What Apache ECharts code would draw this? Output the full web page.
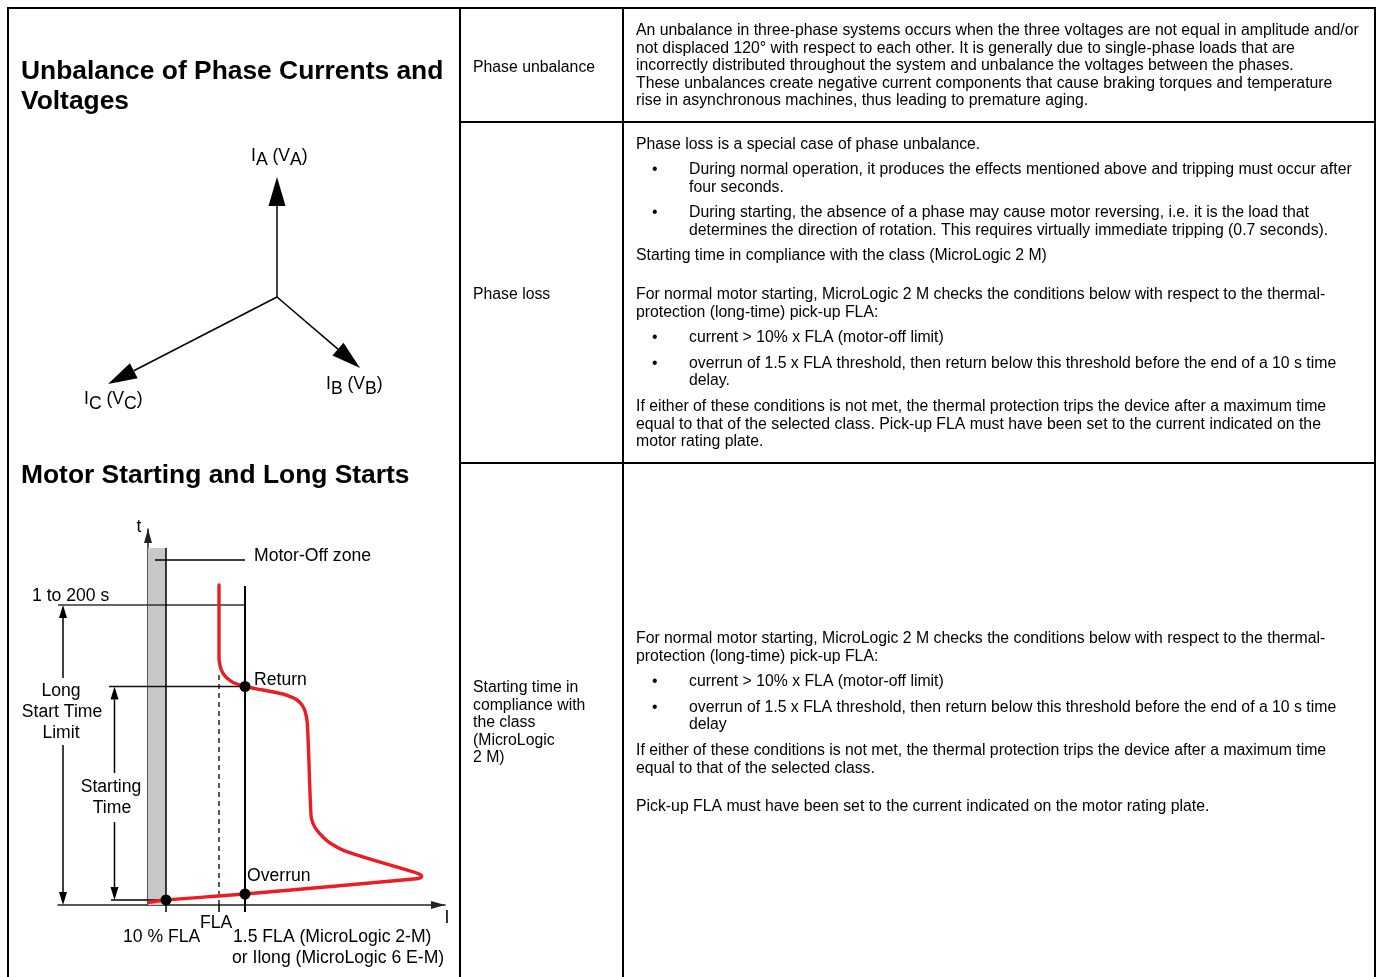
<!DOCTYPE html>
<html><head><meta charset="utf-8">
<style>html,body{margin:0;padding:0;background:#fff;overflow:hidden}#c{width:1376px;height:977px}</style>
<script src="https://cdn.jsdelivr.net/npm/echarts@6/dist/echarts.min.js"></script></head>
<body><div id="c"></div>
<script>
// ---- motor curve (schematic current / time units) ----
const tripCurve = [[71,320],[71,250],[71.4,243],[72.8,236.5],[75.5,231],[79.5,226.5],[85,222.5],[97,218.5],[115,215],[135,211],[142,208.5],[149,205],[154,200],[157,194],[159.3,182],[163,90],[164.8,82],[168.7,75],[175,68],[182,62],[198.7,53.3],[268.7,32],[272,30.5],[273.7,29],[273,27.5],[268.7,26.3],[97,11],[18,5],[1,2.7]];
const keyPoints = [[18,5],[97,218.5],[97,11]];
const xTicks = [18,71,97];
const offZone = [0,18,357];
const fullLoadLine = [[97,-7],[97,319]];
const flaDashed = [[71,0],[71,230]];
const offEdge = [[18,0],[18,357]];
const limitLine = [[-90,300],[97,300]];
const startLine = [[-39,218.5],[97,218.5]];
const lowLine = [[-37,5],[18,5]];
const leader = [[7,345],[97,345]];
const dimArrows = [[-85,227,-85,300],[-85,160,-85,0],[-33.5,132,-33.5,218.5],[-33.5,83,-33.5,5]];
// ---- phasors ----
const phasors = [[0,0,0,120],[0,0,83,-71],[0,0,-169,-87]];
// ---- texts ----
const unbalanceText = ["An unbalance in three-phase systems occurs when the three voltages are not equal in amplitude and/or","not displaced 120° with respect to each other. It is generally due to single-phase loads that are","incorrectly distributed throughout the system and unbalance the voltages between the phases.","These unbalances create negative current components that cause braking torques and temperature","rise in asynchronous machines, thus leading to premature aging."];
const lossText = ["Phase loss is a special case of phase unbalance.","Starting time in compliance with the class (MicroLogic 2 M)","For normal motor starting, MicroLogic 2 M checks the conditions below with respect to the thermal-","protection (long-time) pick-up FLA:","If either of these conditions is not met, the thermal protection trips the device after a maximum time","equal to that of the selected class. Pick-up FLA must have been set to the current indicated on the","motor rating plate."];
const lossBullets = ["During normal operation, it produces the effects mentioned above and tripping must occur after","four seconds.","During starting, the absence of a phase may cause motor reversing, i.e. it is the load that","determines the direction of rotation. This requires virtually immediate tripping (0.7 seconds).","current > 10% x FLA (motor-off limit)","overrun of 1.5 x FLA threshold, then return below this threshold before the end of a 10 s time","delay."];
const startText = ["For normal motor starting, MicroLogic 2 M checks the conditions below with respect to the thermal-","protection (long-time) pick-up FLA:","If either of these conditions is not met, the thermal protection trips the device after a maximum time","equal to that of the selected class.","Pick-up FLA must have been set to the current indicated on the motor rating plate."];
const startBullets = ["current > 10% x FLA (motor-off limit)","overrun of 1.5 x FLA threshold, then return below this threshold before the end of a 10 s time","delay"];
const rowNames = ["Phase unbalance","Phase loss","Starting time in","compliance with","the class","(MicroLogic","2 M)"];
const titles = ["Unbalance of Phase Currents and","Voltages","Motor Starting and Long Starts"];
const diagramLabels = ["t","Motor-Off zone","1 to 200 s","Long","Start Time","Limit","Starting","Time","Return","Overrun","FLA","10 % FLA","1.5 FLA (MicroLogic 2-M)","or Ilong (MicroLogic 6 E-M)","I"];

// ---- layout ----
const FF = "'Liberation Sans', Arial, sans-serif";
const BODY = 15.8, DIA = 17.6;
const g = [];
function T(s,x,y,o){ g.push({type:'text',x,y:y+1,silent:true,z:20,style:Object.assign({text:s,fill:'#000',fontFamily:FF,fontSize:BODY,textAlign:'left',textVerticalAlign:'middle'},o||{})}); }
function L(x1,y1,x2,y2,w){ g.push({type:'line',silent:true,z:30,shape:{x1,y1,x2,y2},style:{stroke:'#000',lineWidth:w||2}}); }
L(7,8,1376,8); L(8,8,8,977); L(460,8,460,977); L(623,8,623,977); L(1375,8,1375,977); L(460,122,1376,122); L(460,463,1376,463);
const tb={fontSize:26.4,fontWeight:'bold'};
T(titles[0],21,71,tb);T(titles[1],21,101,tb);T(titles[2],21,475,tb);
const lx=473; [67,294,687,704.5,722,739.5,757].forEach((y,i)=>T(rowNames[i],lx,y));
const bx=636, bu=689, dot=652;
[30,47.5,65,82.5,100].forEach((y,i)=>T(unbalanceText[i],bx,y));
[144,255,294,311.5,406,423.5,441].forEach((y,i)=>T(lossText[i],bx,y));
[169,186.5,212,229.5,337,363,380].forEach((y,i)=>T(lossBullets[i],bu,y));
[169,212,337,363].forEach(y=>T("•",dot,y));
[638,655.5,750,767.5,806].forEach((y,i)=>T(startText[i],bx,y));
[681,707,724].forEach((y,i)=>T(startBullets[i],bu,y));
[681,707].forEach(y=>T("•",dot,y));
const d={fontSize:DIA};
const dl=diagramLabels;
T(dl[0],139,526,Object.assign({textAlign:'center'},d));
T(dl[1],254,555,d);T(dl[2],32,595,d);
T(dl[3],61,690,Object.assign({textAlign:'center'},d));T(dl[4],62,711,Object.assign({textAlign:'center'},d));T(dl[5],61,732,Object.assign({textAlign:'center'},d));
T(dl[6],111,786,Object.assign({textAlign:'center'},d));T(dl[7],112,807,Object.assign({textAlign:'center'},d));
T(dl[8],254,679,d);T(dl[9],247,875,d);T(dl[10],200,922,d);T(dl[11],123,936,d);T(dl[12],233,936,d);T(dl[13],232,957,d);T(dl[14],447,917,Object.assign({textAlign:'center'},d));
const sub={a:{fontFamily:FF,fontSize:DIA,fill:'#000'},s:{fontFamily:FF,fontSize:DIA,fill:'#000',padding:[9,0,0,0]}};
function P(p,x,y){ g.push({type:'text',x,y,silent:true,z:20,style:{text:`{a|I}{s|${p}}{a| (V}{s|${p}}{a|)}`,rich:sub,textAlign:'left',textVerticalAlign:'middle'}}); }
P('A',251,156);P('B',326,384.5);P('C',84,399.5);

function arrowItem(params,api){
  const a=api.coord([api.value(0),api.value(1)]), b=api.coord([api.value(2),api.value(3)]);
  const hl=params.seriesIndex===0?29:13, hw=params.seriesIndex===0?8.5:4;
  const dx=b[0]-a[0],dy=b[1]-a[1],n=Math.hypot(dx,dy),ux=dx/n,uy=dy/n;
  const bx2=b[0]-ux*hl,by2=b[1]-uy*hl;
  return {type:'group',children:[
    {type:'line',shape:{x1:a[0],y1:a[1],x2:bx2,y2:by2},style:{stroke:'#000',lineWidth:1.5}},
    {type:'polygon',shape:{points:[b,[bx2-uy*hw,by2+ux*hw],[bx2+uy*hw,by2-ux*hw]]},style:{fill:'#000'}}
  ]};
}
function thin(data,color,width,type,z){ return {type:'line',xAxisIndex:1,yAxisIndex:1,data,symbol:'none',silent:true,clip:false,z:z||3,lineStyle:{color,width,type:type||'solid'}}; }
const axisArrow='path://M0 0L4 14L-4 14Z';

const chart=echarts.init(document.getElementById('c'),null,{renderer:'canvas'});
chart.setOption({
  animation:false,
  backgroundColor:'#fff',
  graphic:{elements:g},
  grid:[{left:77,top:147,width:400,height:300},{left:58,top:529,width:387,height:376}],
  xAxis:[
    {gridIndex:0,type:'value',min:-200,max:200,show:false},
    {gridIndex:1,type:'value',min:-90,max:297,splitLine:{show:false},
      axisLabel:{show:false},
      axisLine:{onZero:false,lineStyle:{color:'#222',width:1.5},symbol:['none',axisArrow],symbolSize:[8,14],symbolOffset:[0,-7]},
      axisTick:{show:true,length:7,customValues:xTicks,lineStyle:{color:'#000',width:1.5}}}
  ],
  yAxis:[
    {gridIndex:0,type:'value',min:-150,max:150,show:false},
    {gridIndex:1,type:'value',min:0,max:376,splitLine:{show:false},axisLabel:{show:false},axisTick:{show:false},
      axisLine:{show:true,onZero:true,lineStyle:{color:'#222',width:1.5},symbol:['none',axisArrow],symbolSize:[8,14],symbolOffset:[0,-7]}}
  ],
  series:[
    {type:'custom',xAxisIndex:0,yAxisIndex:0,renderItem:arrowItem,data:phasors,encode:{x:[0,2],y:[1,3]},clip:false,silent:true,z:5},
    {type:'custom',xAxisIndex:1,yAxisIndex:1,renderItem:arrowItem,data:dimArrows,encode:{x:[0,2],y:[1,3]},clip:false,silent:true,z:5},
    {type:'line',xAxisIndex:1,yAxisIndex:1,data:[],silent:true,z:1,
      markArea:{silent:true,itemStyle:{color:'#c8c8c8'},data:[[{xAxis:offZone[0],yAxis:0},{xAxis:offZone[1],yAxis:offZone[2]}]]}},
    thin(limitLine,'#333',1.3),thin(startLine,'#111',1.3),thin(lowLine,'#000',1.3),thin(leader,'#000',1.3),
    thin(offEdge,'#000',1.5),thin(fullLoadLine,'#000',2),thin(flaDashed,'#000',1.3,[5,4]),
    {type:'line',xAxisIndex:1,yAxisIndex:1,data:tripCurve,symbol:'none',smooth:0.35,silent:true,clip:false,z:6,lineStyle:{color:'#ed1c24',width:3.4,join:'round',cap:'round'}},
    {type:'scatter',xAxisIndex:1,yAxisIndex:1,data:keyPoints,symbol:'circle',symbolSize:11,silent:true,z:8,itemStyle:{color:'#000',opacity:1}}
  ]
});
</script></body></html>
